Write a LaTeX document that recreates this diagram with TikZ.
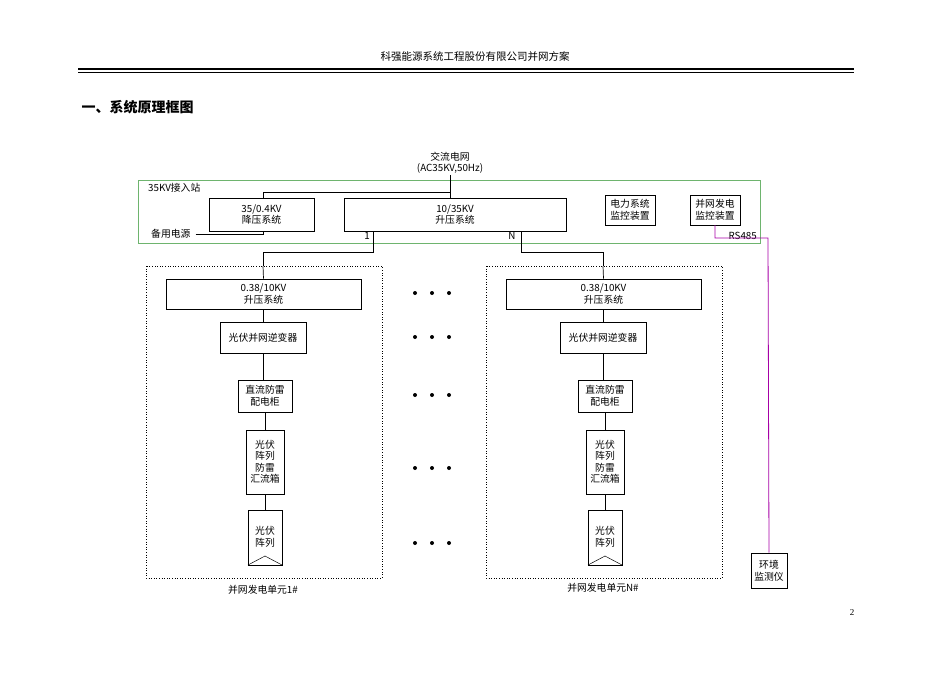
\documentclass[tikz,border=0pt]{standalone}
\usepackage{fontspec}
\setmainfont{Liberation Serif}
\newfontfamily\cjk{Noto Sans CJK SC}
\definecolor{gbox}{RGB}{110,180,110}
\begin{document}
\begin{tikzpicture}[x=1pt,y=-1pt,
  bx/.style={draw,line width=0.7pt,align=center,font=\cjk\fontsize{9.8}{11.5}\selectfont,inner sep=0pt},
  lbl/.style={font=\cjk\fontsize{9.8}{11.5}\selectfont,inner sep=1pt},
  ln/.style={line width=0.7pt},
  dt/.style={circle,fill,inner sep=0pt,minimum size=4pt}]
\useasboundingbox (0,0) rectangle (950,672);
\node[font=\cjk\fontsize{10.5}{12}\selectfont] (hdr) at (475,57) {科强能源系统工程股份有限公司并网方案};
\draw[line width=1.6pt] (78,69) -- (854,69);
\draw[line width=0.5pt] (78,72.5) -- (854,72.5);
\node[anchor=west,font=\cjk\bfseries\fontsize{14}{16}\selectfont] (title) at (78,107) {一、系统原理框图};
\node[lbl,align=center,font=\cjk\fontsize{9.8}{11}\selectfont] (grid) at (450,163) {交流电网\\(AC35KV,50Hz)};
\draw[draw=gbox,line width=0.9pt] (138,180) rectangle (760,243);
\node[lbl,anchor=west] (st) at (147,188) {35KV接入站};
\node[bx,minimum width=105pt,minimum height=33pt] (b1) at (261.5,214.5) {35/0.4KV\\降压系统};
\node[bx,minimum width=222pt,minimum height=33pt] (b2) at (455,214.5) {10/35KV\\升压系统};
\node[bx,minimum width=50pt,minimum height=30pt] (m1) at (630,210) {电力系统\\监控装置};
\node[bx,minimum width=50pt,minimum height=30pt] (m2) at (715,210) {并网发电\\监控装置};
\draw[ln] (grid.south) -- (450,192) -- (263,192) -- (263,198);
\draw[ln] (450,192) -- (450,198);
\node[lbl,anchor=west] (spare) at (150,234) {备用电源};
\draw[ln] (spare.east) ++(4,0) -- (263,234) -- (263,231);
\node[lbl] (n1) at (367,236) {1};
\node[lbl] (nN) at (512,236) {N};
\node[lbl,anchor=east] (rs) at (758,236) {RS485};
\node[bx,minimum width=36pt,minimum height=35pt] (env) at (769,570.5) {环境\\监测仪};
\draw[draw=violet!70!magenta,line width=0.8pt] (715,225) -- (715,238) -- (768,238) -- (env.north);
\foreach \u/\dx/\cap/\ly in {1/0/并网发电单元1\#/590, N/340/并网发电单元N\#/588}{
 \begin{scope}[xshift=\dx]
  \draw[line width=0.6pt,dotted] (146,266) rectangle (382,578);
  \node[bx,minimum width=195pt,minimum height=30pt] (a\u) at (263.5,294) {0.38/10KV\\升压系统};
  \node[bx,minimum width=86pt,minimum height=31pt] (c\u) at (263,337.5) {光伏并网逆变器};
  \node[bx,minimum width=54pt,minimum height=32pt] (d\u) at (265,396) {直流防雷\\配电柜};
  \node[bx,minimum width=38pt,minimum height=64pt] (e\u) at (265,462) {光伏\\阵列\\防雷\\汇流箱};
  \node[bx,minimum width=34pt,minimum height=55pt,anchor=north] (f\u) at (265,510) {};
  \node[lbl,align=center] (ft\u) at (265,537) {光伏\\阵列};
  \draw[line width=0.5pt] (248,565) -- (265,556) -- (282,565);
  \draw[ln] (263,266) -- (a\u.north);
  \draw[ln] (263,309) -- (263,322);
  \draw[ln] (263,353) -- (263,380);
  \draw[ln] (265,412) -- (265,430);
  \draw[ln] (265,494) -- (265,510);
  \node[lbl] (cap\u) at (263,\ly) {\cap};
 \end{scope}}
\draw[ln] (373,231) -- (373,252) -- (263,252) -- (263,266);
\draw[ln] (521,231) -- (521,252) -- (603,252) -- (603,266);
\foreach \y in {293,337,395,468,543}{\foreach \x in {415,432,449}{\node[dt] at (\x,\y) {};}}
\node[font=\fontsize{9}{11}\selectfont] (pg) at (852,613) {2};
\end{tikzpicture}
\end{document}
